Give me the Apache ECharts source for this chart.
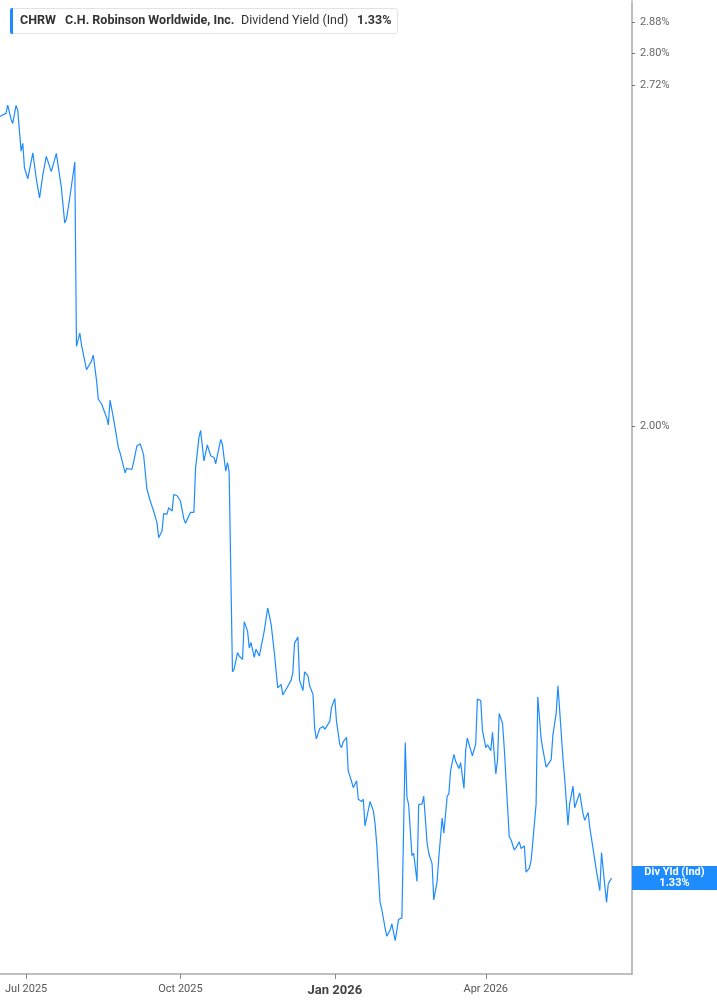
<!DOCTYPE html>
<html>
<head>
<meta charset="utf-8">
<script src="https://cdn.jsdelivr.net/npm/echarts@6/dist/echarts.min.js"></script>
<style>
html,body{margin:0;padding:0;background:#fff;}
#chart{width:717px;height:1005px;}
</style>
</head>
<body>
<div id="chart"></div>
<script>
// ---- data ----
const dates = [
'2025-06-15','2025-06-16','2025-06-19','2025-06-20','2025-06-22','2025-06-23','2025-06-25','2025-06-26','2025-06-28','2025-06-29',
'2025-06-30','2025-07-02','2025-07-05','2025-07-07','2025-07-09','2025-07-11','2025-07-13','2025-07-16','2025-07-19','2025-07-22',
'2025-07-24','2025-07-25','2025-07-27','2025-07-30','2025-07-31','2025-08-02','2025-08-03','2025-08-06','2025-08-07','2025-08-09',
'2025-08-10','2025-08-12','2025-08-13','2025-08-15','2025-08-16','2025-08-18','2025-08-19','2025-08-20','2025-08-22','2025-08-24',
'2025-08-25','2025-08-26','2025-08-29','2025-08-30','2025-09-02','2025-09-03','2025-09-05','2025-09-07','2025-09-09','2025-09-11',
'2025-09-13','2025-09-15','2025-09-17','2025-09-18','2025-09-20','2025-09-21','2025-09-23','2025-09-24','2025-09-26','2025-09-27',
'2025-09-29','2025-10-01','2025-10-03','2025-10-04','2025-10-07','2025-10-09','2025-10-10','2025-10-12','2025-10-13','2025-10-15',
'2025-10-16','2025-10-17','2025-10-19','2025-10-21','2025-10-22','2025-10-25','2025-10-26','2025-10-28','2025-10-29','2025-10-30',
'2025-11-01','2025-11-02','2025-11-04','2025-11-05','2025-11-07','2025-11-08','2025-11-10','2025-11-11','2025-11-12','2025-11-14',
'2025-11-15','2025-11-17','2025-11-18','2025-11-20','2025-11-21','2025-11-22','2025-11-24','2025-11-26','2025-11-27','2025-11-28',
'2025-11-30','2025-12-01','2025-12-03','2025-12-04','2025-12-06','2025-12-07','2025-12-08','2025-12-10','2025-12-11','2025-12-13',
'2025-12-14','2025-12-16','2025-12-17','2025-12-19','2025-12-20','2025-12-21','2025-12-23','2025-12-25','2025-12-26','2025-12-29',
'2025-12-30','2026-01-01','2026-01-02','2026-01-04','2026-01-05','2026-01-06','2026-01-08','2026-01-09','2026-01-11','2026-01-12',
'2026-01-14','2026-01-15','2026-01-17','2026-01-18','2026-01-19','2026-01-20','2026-01-22','2026-01-24','2026-01-25','2026-01-26',
'2026-01-28','2026-01-29','2026-01-31','2026-02-01','2026-02-03','2026-02-04','2026-02-06','2026-02-07','2026-02-08','2026-02-10',
'2026-02-12','2026-02-13','2026-02-14','2026-02-16','2026-02-17','2026-02-19','2026-02-20','2026-02-22','2026-02-23','2026-02-25',
'2026-02-26','2026-02-28','2026-03-01','2026-03-03','2026-03-04','2026-03-06','2026-03-07','2026-03-09','2026-03-10','2026-03-11',
'2026-03-13','2026-03-14','2026-03-16','2026-03-17','2026-03-19','2026-03-20','2026-03-21','2026-03-23','2026-03-24','2026-03-26',
'2026-03-27','2026-03-29','2026-03-30','2026-04-01','2026-04-02','2026-04-04','2026-04-05','2026-04-07','2026-04-08','2026-04-09',
'2026-04-11','2026-04-12','2026-04-13','2026-04-15','2026-04-16','2026-04-18','2026-04-19','2026-04-21','2026-04-22','2026-04-24',
'2026-04-25','2026-04-27','2026-04-28','2026-04-29','2026-05-01','2026-05-02','2026-05-04','2026-05-05','2026-05-07','2026-05-08',
'2026-05-10','2026-05-11','2026-05-13','2026-05-14','2026-05-15','2026-05-17','2026-05-18','2026-05-20','2026-05-21','2026-05-23',
'2026-05-24','2026-05-26','2026-05-27','2026-05-29','2026-05-30','2026-06-01','2026-06-02','2026-06-04','2026-06-05','2026-06-06',
'2026-06-08','2026-06-09','2026-06-11','2026-06-12','2026-06-13','2026-06-15'
];
const divYield = [
2.644,2.641,2.652,2.672,2.638,2.628,2.671,2.659,2.563,2.581,
2.525,2.500,2.559,2.501,2.457,2.510,2.551,2.516,2.558,2.480,
2.402,2.410,2.457,2.538,2.149,2.175,2.152,2.104,2.102,2.121,
2.132,2.083,2.049,2.040,2.043,2.015,2.002,2.047,2.015,1.979,
1.961,1.952,1.917,1.925,1.923,1.935,1.964,1.968,1.949,1.889,
1.869,1.852,1.833,1.808,1.819,1.848,1.847,1.858,1.852,1.880,
1.878,1.869,1.839,1.832,1.850,1.850,1.925,1.979,1.992,1.938,
1.936,1.966,1.947,1.944,1.933,1.976,1.967,1.920,1.935,1.920,
1.602,1.606,1.630,1.625,1.620,1.676,1.662,1.637,1.645,1.623,
1.635,1.625,1.625,1.663,1.665,1.697,1.673,1.629,1.603,1.579,
1.584,1.569,1.577,1.579,1.590,1.601,1.644,1.653,1.590,1.575,
1.602,1.596,1.582,1.570,1.522,1.508,1.522,1.525,1.521,1.532,
1.551,1.564,1.532,1.500,1.496,1.504,1.510,1.465,1.451,1.443,
1.452,1.428,1.425,1.428,1.394,1.404,1.425,1.413,1.397,1.371,
1.301,1.293,1.271,1.262,1.269,1.276,1.257,1.258,1.281,1.283,
1.503,1.431,1.421,1.357,1.360,1.326,1.421,1.422,1.432,1.373,
1.360,1.347,1.304,1.326,1.355,1.404,1.385,1.432,1.435,1.465,
1.487,1.478,1.468,1.476,1.442,1.492,1.509,1.493,1.485,1.501,
1.563,1.561,1.520,1.496,1.500,1.492,1.517,1.461,1.479,1.543,
1.529,1.496,1.498,1.380,1.377,1.364,1.367,1.374,1.366,1.369,
1.337,1.342,1.351,1.373,1.422,1.566,1.508,1.494,1.470,1.469,
1.480,1.513,1.544,1.582,1.549,1.482,1.456,1.395,1.422,1.445,
1.417,1.430,1.436,1.409,1.401,1.411,1.392,1.365,1.367,1.338,
1.315,1.361,1.320,1.301,1.323,1.330
];
const yTickValues = [2.00, 2.72, 2.80, 2.88];
const xTickDates = ['2025-07-01','2025-10-01','2026-01-01','2026-04-01'];
const xRange = ['2025-06-15T10:00:00', '2026-06-27T04:00:00'];
const lastValue = 1.33;
const legendParts = ['CHRW', 'C.H. Robinson Worldwide, Inc.', 'Dividend Yield (Ind)', '1.33%'];
const endLabelLines = ['Div Yld (Ind)', '1.33%'];

const toTime = s => new Date(s.length === 10 ? s + 'T00:00:00' : s).getTime();
const seriesData = dates.map((d, i) => [toTime(d), divYield[i]]);
const xTickValues = xTickDates.map(toTime);
const months = ['Jan','Feb','Mar','Apr','May','Jun','Jul','Aug','Sep','Oct','Nov','Dec'];

const chart = echarts.init(document.getElementById('chart'), null, {renderer: 'canvas'});
const FONT = 'Roboto, "Noto Sans", sans-serif';
const BLUE = '#1e8cff';

chart.setOption({
  animation: false,
  backgroundColor: '#fff',
  grid: {left: 0, right: 85, top: 1, bottom: 31, containLabel: false},
  xAxis: {
    type: 'value',
    min: toTime(xRange[0]),
    max: toTime(xRange[1]),
    axisLine: {show: true, onZero: false, lineStyle: {color: '#aaaaaa', width: 1.5}},
    axisTick: {show: true, customValues: xTickValues, length: 5, lineStyle: {color: '#888'}},
    axisLabel: {
      customValues: xTickValues,
      margin: 10,
      fontFamily: FONT,
      fontSize: 11,
      color: '#555',
      formatter: function (val) {
        const d = new Date(val);
        const s = months[d.getMonth()] + ' ' + d.getFullYear();
        return d.getMonth() === 0 ? '{b|' + s + '}' : s;
      },
      rich: {b: {fontFamily: FONT, fontSize: 13, fontWeight: 'bold', color: '#444'}}
    },
    splitLine: {show: false}
  },
  yAxis: {
    type: 'log',
    position: 'right',
    min: 1.2196,
    max: 2.935,
    axisLine: {show: true, lineStyle: {color: '#aaaaaa', width: 1.5}},
    axisTick: {show: true, customValues: yTickValues, length: 3, lineStyle: {color: '#777'}},
    axisLabel: {
      customValues: yTickValues,
      margin: 8,
      fontFamily: FONT,
      fontSize: 11,
      color: '#666',
      formatter: function (v) { return Number(v).toFixed(2) + '%'; }
    },
    splitLine: {show: false}
  },
  series: [{
    type: 'line',
    data: seriesData,
    showSymbol: false,
    symbol: 'none',
    smooth: false,
    lineStyle: {color: BLUE, width: 1.2},
    clip: true
  }]
});

const py = chart.convertToPixel({yAxisIndex: 0}, lastValue);
chart.setOption({
  graphic: [
    {type: 'rect', shape: {x: 10.5, y: 8.5, width: 387, height: 25, r: 3}, style: {fill: '#fff', stroke: '#e3e3e3', lineWidth: 1}, z: 10},
    {type: 'rect', shape: {x: 10, y: 8, width: 3, height: 26, r: [2, 0, 0, 2]}, style: {fill: BLUE}, z: 11},
    {type: 'text', x: 20, y: 21, style: {text: legendParts[0], fontFamily: FONT, fontSize: 12.5, fontWeight: 'bold', fill: '#333', verticalAlign: 'middle'}, z: 11},
    {type: 'text', x: 65, y: 21, style: {text: legendParts[1], fontFamily: FONT, fontSize: 12.5, fontWeight: 'bold', fill: '#333', verticalAlign: 'middle'}, z: 11},
    {type: 'text', x: 241, y: 21, style: {text: legendParts[2], fontFamily: FONT, fontSize: 12.5, fill: '#333', verticalAlign: 'middle'}, z: 11},
    {type: 'text', x: 357, y: 21, style: {text: legendParts[3], fontFamily: FONT, fontSize: 12.5, fontWeight: 'bold', fill: '#333', verticalAlign: 'middle'}, z: 11},
    {type: 'rect', shape: {x: 632, y: py - 12, width: 85, height: 24}, style: {fill: BLUE}, z: 11},
    {type: 'text', x: 674.5, y: py - 5.5, style: {text: endLabelLines[0], fontFamily: FONT, fontSize: 11, fontWeight: 'bold', fill: '#fff', align: 'center', verticalAlign: 'middle'}, z: 12},
    {type: 'text', x: 674.5, y: py + 5.5, style: {text: endLabelLines[1], fontFamily: FONT, fontSize: 11, fontWeight: 'bold', fill: '#fff', align: 'center', verticalAlign: 'middle'}, z: 12}
  ]
});
</script>
</body>
</html>
